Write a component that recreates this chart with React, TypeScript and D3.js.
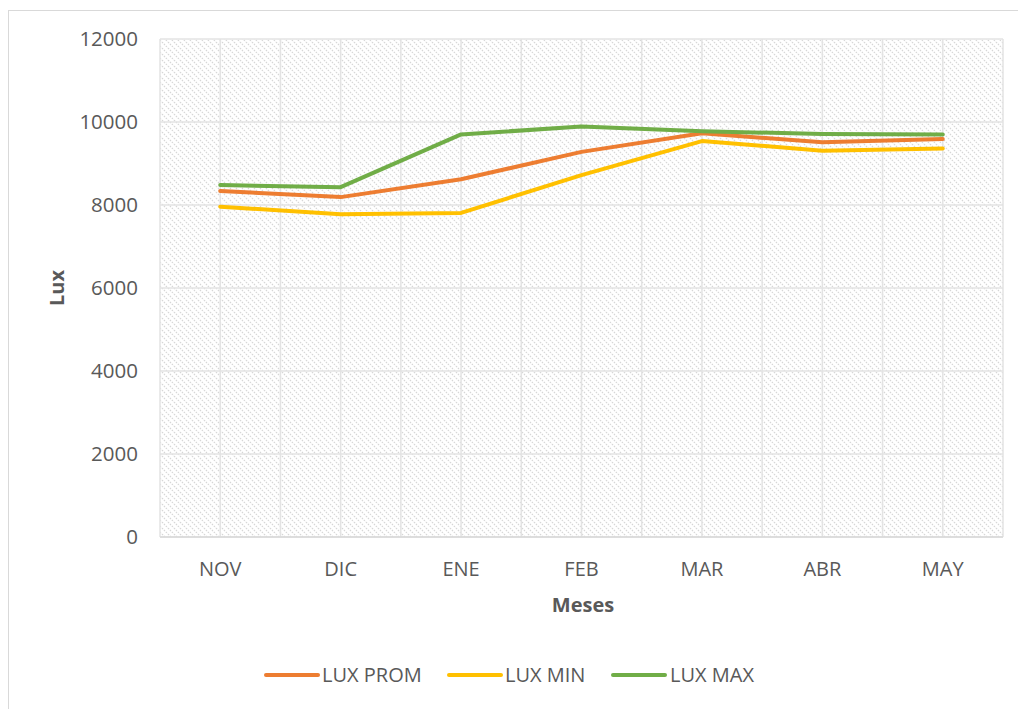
import * as d3 from 'd3';

const meses = ['NOV', 'DIC', 'ENE', 'FEB', 'MAR', 'ABR', 'MAY'];
const luxProm = [8340, 8190, 8620, 9280, 9730, 9510, 9590];
const luxMin = [7960, 7780, 7810, 8720, 9540, 9310, 9360];
const luxMax = [8480, 8430, 9700, 9890, 9780, 9710, 9700];
const yTicks = [0, 2000, 4000, 6000, 8000, 10000, 12000];

const series = [
  { name: 'LUX PROM', values: luxProm, color: '#ED7D31' },
  { name: 'LUX MIN', values: luxMin, color: '#FFC000' },
  { name: 'LUX MAX', values: luxMax, color: '#70AD47' },
];

export default function App() {
  const width = 1018;
  const height = 709;
  const plot = { left: 160, top: 39, right: 1003, bottom: 537 };
  const font = '"Open Sans", "DejaVu Sans", sans-serif';
  const textColor = '#595959';

  const x = d3.scaleBand().domain(meses).range([plot.left, plot.right]);
  const y = d3.scaleLinear().domain([0, 12000]).range([plot.bottom, plot.top]);
  const cx = (m: string) => x(m)! + x.bandwidth() / 2;

  const line = d3
    .line<number>()
    .x((_, i) => cx(meses[i]))
    .y((d) => y(d));

  // vertical grid at every half band (boundaries + centres)
  const vLines: number[] = [];
  for (let i = 0; i <= meses.length * 2; i++) vLines.push(plot.left + (i * x.bandwidth()) / 2);

  const legendItems = [
    { x0: 266, x1: 318, tx: 322 },
    { x0: 449, x1: 501, tx: 505 },
    { x0: 613, x1: 665, tx: 670 },
  ];

  return (
    <svg width={width} height={height} style={{ position: 'absolute', left: 0, top: 0, background: '#fff' }}>
      <defs>
        <pattern id="hatch" width={6} height={6} patternUnits="userSpaceOnUse">
          <rect width={6} height={6} fill="#fff" />
          <path d="M0,0 L6,6 M-3,3 L3,9 M3,-3 L9,3" stroke="#d6d6d6" strokeWidth={1.2} strokeDasharray="1.5 1.2" />
        </pattern>
      </defs>
      {/* chart frame */}
      <rect x={8.5} y={10.5} width={1030} height={720} fill="#fff" stroke="#d9d9d9" />
      {/* plot area */}
      <rect x={plot.left} y={plot.top} width={plot.right - plot.left} height={plot.bottom - plot.top} fill="url(#hatch)" />
      {vLines.map((v, i) => (
        <line key={'v' + i} x1={v} x2={v} y1={plot.top} y2={plot.bottom} stroke="#e3e3e3" strokeWidth={1.5} />
      ))}
      {yTicks.map((t) => (
        <line key={'h' + t} x1={plot.left} x2={plot.right} y1={y(t)} y2={y(t)} stroke="#e3e3e3" strokeWidth={1.5} />
      ))}
      <line x1={plot.left} x2={plot.right} y1={plot.bottom} y2={plot.bottom} stroke="#d9d9d9" strokeWidth={1.5} />
      {/* y tick labels */}
      {yTicks.map((t) => (
        <text key={'yl' + t} x={138} y={y(t)} dy="0.35em" textAnchor="end" fontFamily={font} fontSize={20.5} fill={textColor}>
          {t}
        </text>
      ))}
      {/* x tick labels */}
      {meses.map((m) => (
        <text key={'xl' + m} x={cx(m)} y={576} textAnchor="middle" fontFamily={font} fontSize={20} fill={textColor}>
          {m}
        </text>
      ))}
      {/* axis titles */}
      <text x={583} y={612} textAnchor="middle" fontFamily={font} fontSize={20} fontWeight="bold" fill={textColor}>
        Meses
      </text>
      <text
        transform={`translate(64,${(plot.top + plot.bottom) / 2}) rotate(-90)`}
        textAnchor="middle"
        fontFamily={font}
        fontSize={20}
        fontWeight="bold"
        fill={textColor}
      >
        Lux
      </text>
      {/* series */}
      {series.map((s) => (
        <path key={s.name} d={line(s.values)!} fill="none" stroke={s.color} strokeWidth={4} strokeLinejoin="round" strokeLinecap="round" />
      ))}
      {/* legend */}
      {series.map((s, i) => (
        <g key={'lg' + s.name}>
          <line x1={legendItems[i].x0} x2={legendItems[i].x1} y1={675} y2={675} stroke={s.color} strokeWidth={4} strokeLinecap="round" />
          <text x={legendItems[i].tx} y={675} dy="0.35em" fontFamily={font} fontSize={20} fill={textColor}>
            {s.name}
          </text>
        </g>
      ))}
    </svg>
  );
}
